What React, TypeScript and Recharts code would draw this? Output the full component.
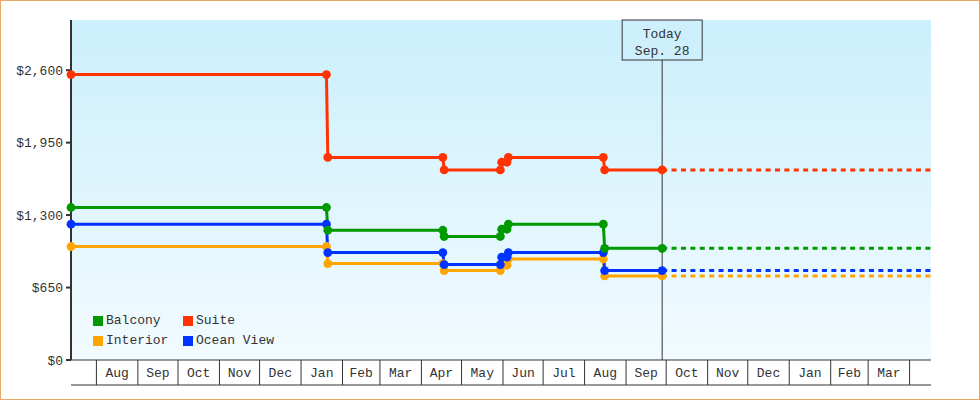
import {
  LineChart,
  Line,
  XAxis,
  YAxis,
  CartesianGrid,
  ReferenceLine,
  Legend,
} from "recharts";

// price change dates (each change = last day of old price + first day of new price)
const changeDates = [
  "2017-07-13",
  "2018-01-20", "2018-01-21",
  "2018-04-17", "2018-04-18",
  "2018-05-30", "2018-05-31",
  "2018-06-04", "2018-06-05",
  "2018-08-15", "2018-08-16",
  "2018-09-28",
];
const todayDate = "2018-09-28";
const endDate = "2019-04-17";

// prices per cabin type
const balcony = [1368, 1368, 1164, 1164, 1108, 1108, 1173, 1173, 1218, 1218, 1002, 1002];
const suite = [2560, 2560, 1817, 1817, 1705, 1705, 1774, 1774, 1817, 1817, 1705, 1705];
const interior = [1018, 1018, 865, 865, 802, 802, 850, 850, 906, 906, 754, 754];
const oceanView = [1218, 1218, 964, 964, 856, 856, 922, 922, 964, 964, 802, 802];

// axes
const yTicks = [0, 650, 1300, 1950, 2600];
const monthStarts = [
  "2017-08-01", "2017-09-01", "2017-10-01", "2017-11-01", "2017-12-01",
  "2018-01-01", "2018-02-01", "2018-03-01", "2018-04-01", "2018-05-01",
  "2018-06-01", "2018-07-01", "2018-08-01", "2018-09-01", "2018-10-01",
  "2018-11-01", "2018-12-01", "2019-01-01", "2019-02-01", "2019-03-01",
  "2019-04-01",
];
const monthLabels = [
  "Aug", "Sep", "Oct", "Nov", "Dec", "Jan", "Feb", "Mar", "Apr", "May",
  "Jun", "Jul", "Aug", "Sep", "Oct", "Nov", "Dec", "Jan", "Feb", "Mar",
];

const FONT = "'Liberation Mono', 'DejaVu Sans Mono', monospace";
const INK = "#333";

// draw order (bottom first)
const series = [
  { key: "interior", name: "Interior", color: "#ffa500", values: interior },
  { key: "oceanView", name: "Ocean View", color: "#0033ff", values: oceanView },
  { key: "balcony", name: "Balcony", color: "#009900", values: balcony },
  { key: "suite", name: "Suite", color: "#ff3300", values: suite },
];
const legendOrder = ["balcony", "suite", "interior", "oceanView"];

const dayNum = (s: string) => {
  const [y, m, d] = s.split("-").map(Number);
  return Date.UTC(y, m - 1, d) / 86400000;
};

const data: any[] = changeDates.map((d, i) => {
  const row: any = { t: dayNum(d) };
  series.forEach((s) => {
    row[s.key] = s.values[i];
  });
  return row;
});
// projection from today to the end of the axis
const todayRow = data.find((r) => r.t === dayNum(todayDate));
series.forEach((s) => {
  todayRow[s.key + "P"] = s.values[s.values.length - 1];
});
const endRow: any = { t: dayNum(endDate) };
series.forEach((s) => {
  endRow[s.key + "P"] = s.values[s.values.length - 1];
});
data.push(endRow);

const xDomain = [dayNum(changeDates[0]), dayNum(endDate)];
const monthTicks = monthStarts.map(dayNum);
const monthMids = monthStarts
  .slice(0, -1)
  .map((s, i) => (dayNum(s) + dayNum(monthStarts[i + 1])) / 2);

const NoLabel = () => <g />;

const MonthLabel = (props: any) => {
  const { x, y, index } = props;
  return (
    <text x={x} y={y - 8} textAnchor="middle" fill={INK} fontSize={13} fontFamily={FONT}>
      {monthLabels[index]}
    </text>
  );
};

const TodayBox = (props: any) => {
  const { viewBox } = props;
  const x = viewBox.x;
  const y = viewBox.y;
  return (
    <g>
      <rect x={x - 40} y={y} width={80} height={40} fill="#cdf0fc" stroke={INK} strokeWidth={1} />
      <text x={x} y={y + 17.5} textAnchor="middle" fill={INK} fontSize={13} fontFamily={FONT}>
        Today
      </text>
      <text x={x} y={y + 35} textAnchor="middle" fill={INK} fontSize={13} fontFamily={FONT}>
        Sep. 28
      </text>
    </g>
  );
};

const LegendBox = () => (
  <div
    style={{
      display: "grid",
      gridTemplateColumns: "90px 110px",
      fontFamily: FONT,
      fontSize: 13,
      color: INK,
      lineHeight: "20px",
    }}
  >
    {legendOrder.map((k) => {
      const s = series.find((x) => x.key === k)!;
      return (
        <div key={k} style={{ display: "flex", alignItems: "center", whiteSpace: "nowrap" }}>
          <span style={{ width: 10, height: 10, background: s.color, marginRight: 3 }} />
          {s.name}
        </div>
      );
    })}
  </div>
);

export default function App() {
  return (
    <div style={{ position: "absolute", left: 0, top: 0, width: 980, height: 400, background: "#fff" }}>
      <LineChart
        width={980}
        height={400}
        data={data}
        margin={{ top: 20, right: 49, bottom: 14, left: 0 }}
      >
        <defs>
          <linearGradient id="bg" x1="0" y1="0" x2="0" y2="1">
            <stop offset="0%" stopColor="#cbeffc" />
            <stop offset="100%" stopColor="#f2fbff" />
          </linearGradient>
        </defs>
        <CartesianGrid horizontal={false} vertical={false} fill="url(#bg)" />
        <XAxis
          xAxisId={0}
          dataKey="t"
          type="number"
          domain={xDomain}
          ticks={monthTicks}
          interval={0}
          tick={<NoLabel />}
          tickSize={25}
          height={25}
          axisLine={{ stroke: INK }}
          tickLine={{ stroke: INK }}
        />
        <XAxis
          xAxisId="lbl"
          dataKey="t"
          type="number"
          domain={xDomain}
          ticks={monthMids}
          interval={0}
          tick={<MonthLabel />}
          tickLine={false}
          tickSize={0}
          tickMargin={0}
          height={1}
          axisLine={{ stroke: INK }}
        />
        <YAxis
          type="number"
          domain={[0, 3050]}
          ticks={yTicks}
          interval={0}
          width={71}
          tickSize={5}
          tickMargin={3}
          tickFormatter={(v: number) => "$" + v.toLocaleString("en-US")}
          tick={{ fill: INK, fontSize: 13, fontFamily: FONT }}
          axisLine={{ stroke: INK, strokeWidth: 2 }}
          tickLine={{ stroke: INK, strokeWidth: 2 }}
        />
        <ReferenceLine x={dayNum(todayDate)} stroke={INK} strokeWidth={1} label={<TodayBox />} />
        {series.map((s) => (
          <Line
            key={s.key + "P"}
            dataKey={s.key + "P"}
            type="linear"
            stroke={s.color}
            strokeWidth={3}
            strokeDasharray="5 4.4"
            dot={false}
            activeDot={false}
            legendType="none"
            isAnimationActive={false}
          />
        ))}
        {series.map((s) => (
          <Line
            key={s.key}
            dataKey={s.key}
            name={s.name}
            type="linear"
            stroke={s.color}
            strokeWidth={3}
            dot={{ r: 4.4, fill: s.color, stroke: s.color, strokeWidth: 0 }}
            activeDot={false}
            isAnimationActive={false}
          />
        ))}
        <Legend
          layout="vertical"
          align="center"
          verticalAlign="middle"
          content={<LegendBox />}
          wrapperStyle={{ left: 93, top: 311, width: 220, height: 40 }}
        />
      </LineChart>
      <div
        style={{
          position: "absolute",
          left: 0,
          top: 0,
          width: 980,
          height: 400,
          boxSizing: "border-box",
          border: "1px solid #e9a865",
          pointerEvents: "none",
        }}
      />
    </div>
  );
}
